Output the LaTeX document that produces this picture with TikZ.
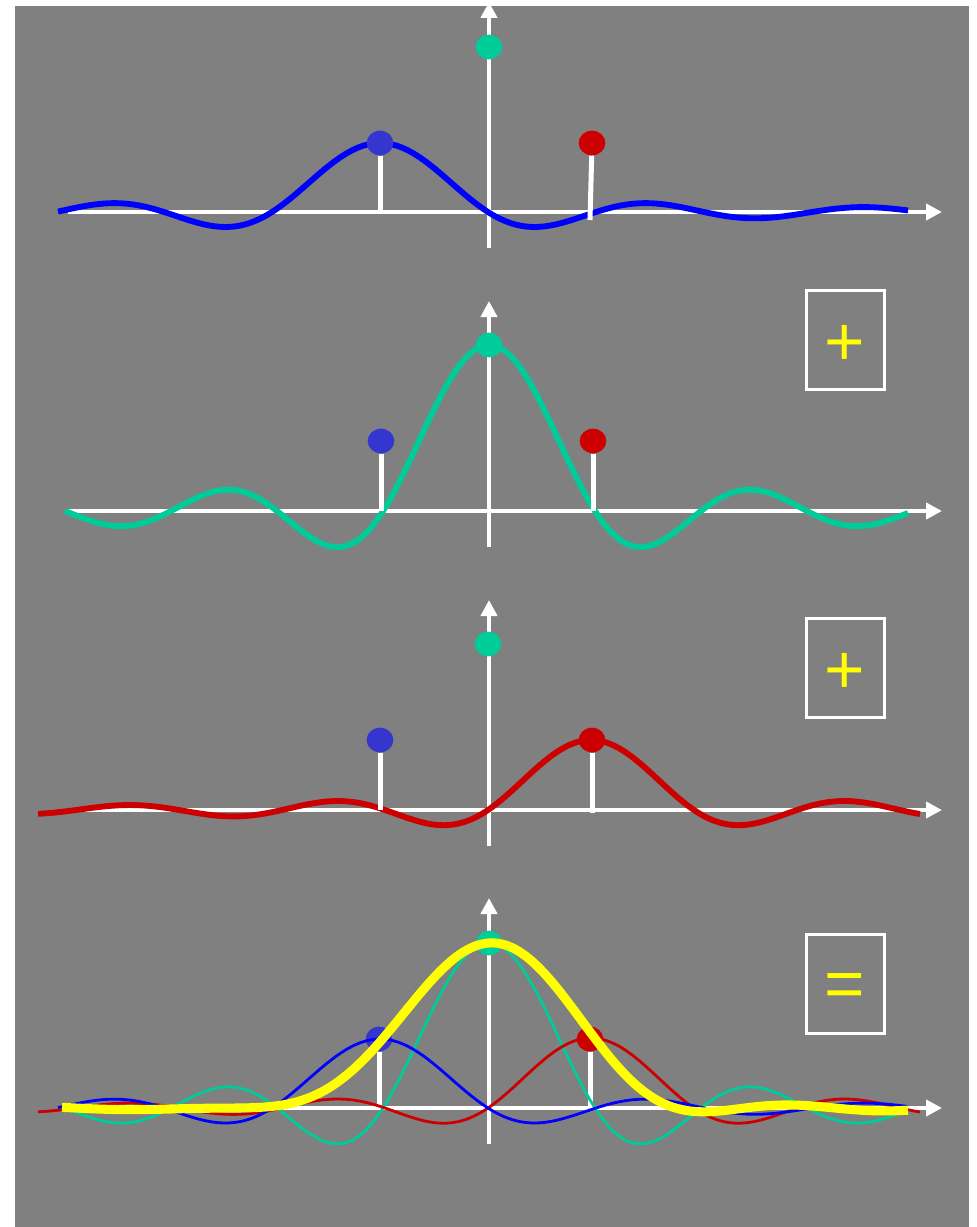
\documentclass[tikz,border=0pt]{standalone}
\usepackage{fontspec}
\setmainfont{Liberation Sans}
\usetikzlibrary{arrows.meta,shapes.geometric}
\definecolor{bg}{HTML}{808080}
\definecolor{cblue}{HTML}{0000FF}
\definecolor{dblue}{HTML}{3535CF}
\definecolor{cgreen}{HTML}{00CC99}
\definecolor{cred}{HTML}{CC0000}
\definecolor{cyellow}{HTML}{FFFF00}
\tikzset{
  axisline/.style={white,line width=3pt,-{Triangle[length=12pt,width=12pt]}},
  stemline/.style={white,line width=3.75pt},
  dotnode/.style={ellipse,minimum width=20pt,minimum height=18.5pt,inner sep=0pt},
  thickcurve/.style={line width=4.4pt,line join=round},
  thincurve/.style={line width=2.1pt,line join=round},
  sumcurve/.style={cyellow,line width=6.8pt,line join=round},
  opbox/.style={draw=white,line width=2.25pt,minimum width=58.5pt,minimum height=74.25pt,inner sep=0pt},
  optext/.style={text=cyellow,inner sep=0pt,font=\fontsize{52}{60}\selectfont},
}
\begin{document}
\begin{tikzpicture}[x=0.75pt,y=-0.75pt,
  declare function={snc(\u)=sin(180*(\u+0.00013))/(pi*(\u+0.00013));}]
\useasboundingbox (0,0) rectangle (977,1227);
\fill[white] (0,0) rectangle (977,1227);
\fill[bg] (15,6) rectangle (969,1227);

% axes
\foreach \i/\b in {1/212,2/511,3/810,4/1108}{
  \coordinate (xl\i) at (68,\b);
  \coordinate (xr\i) at (942,\b);
  \coordinate (yb\i) at (489,{\b+36});
  \coordinate (yt\i) at (489,{\b-210});
  \draw[axisline] (xl\i) -- (xr\i);
  \draw[axisline] (yb\i) -- (yt\i);
}

% ---------- panel 1
\draw[thickcurve,cblue] plot[domain=58:908,samples=220,smooth] (\x,{212-69*snc((\x-380)/108)});
\node[dotnode,fill=dblue] (b1) at (380,143) {};
\node[dotnode,fill=cgreen] (g1) at (489,47) {};
\node[dotnode,fill=cred] (r1) at (592,143) {};
\coordinate (bb1) at (380,212);
\coordinate (rb1) at (590,220);
\draw[stemline] (b1) -- (bb1);
\draw[stemline] (r1) -- (rb1);

% ---------- panel 2
\draw[thickcurve,cgreen] plot[domain=65:908,samples=220,smooth] (\x,{511-166*snc((\x-489)/106)});
\coordinate (bb2) at (381,511);
\coordinate (rb2) at (593,511);
\node[dotnode,fill=dblue] (b2) at (381,441) {};
\node[dotnode,fill=cgreen] (g2) at (489,345) {};
\node[dotnode,fill=cred] (r2) at (593,441) {};
\draw[stemline] (b2) -- (bb2);
\draw[stemline] (r2) -- (rb2);
\node[opbox] (box2) at (845,339.5) {};
\node[optext] (op2) at (845,345) {+};

% ---------- panel 3
\draw[thickcurve,cred] plot[domain=38:920,samples=220,smooth] (\x,{810-70*snc((\x-591)/103)});
\coordinate (bb3) at (380,810);
\coordinate (rb3) at (592,813);
\node[dotnode,fill=dblue] (b3) at (380,740) {};
\node[dotnode,fill=cgreen] (g3) at (488,644) {};
\node[dotnode,fill=cred] (r3) at (592,740) {};
\draw[stemline] (b3) -- (bb3);
\draw[stemline] (r3) -- (rb3);
\node[opbox] (box3) at (845,667.5) {};
\node[optext] (op3) at (845,673) {+};

% ---------- panel 4
\coordinate (bb4) at (379,1108);
\coordinate (rb4) at (590,1108);
\node[dotnode,fill=dblue] (b4) at (379,1039) {};
\node[dotnode,fill=cgreen] (g4) at (489,943) {};
\node[dotnode,fill=cred] (r4) at (590,1039) {};
\draw[stemline] (b4) -- (bb4);
\draw[stemline] (r4) -- (rb4);
\draw[thincurve,cgreen] plot[domain=65:908,samples=220,smooth] (\x,{1108-165*snc((\x-489)/106)});
\draw[thincurve,cred] plot[domain=38:920,samples=220,smooth] (\x,{1108-70*snc((\x-591)/103)});
\draw[thincurve,cblue] plot[domain=58:908,samples=220,smooth] (\x,{1108-69*snc((\x-380)/108)});
\draw[sumcurve] plot[domain=62:908,samples=240,smooth] (\x,{1108-69*snc((\x-380)/108)-165*snc((\x-489)/106)-70*snc((\x-591)/103)});
\node[opbox] (box4) at (845,983.5) {};
\node[optext] (op4) at (845,990.5) {=};
\end{tikzpicture}
\end{document}
